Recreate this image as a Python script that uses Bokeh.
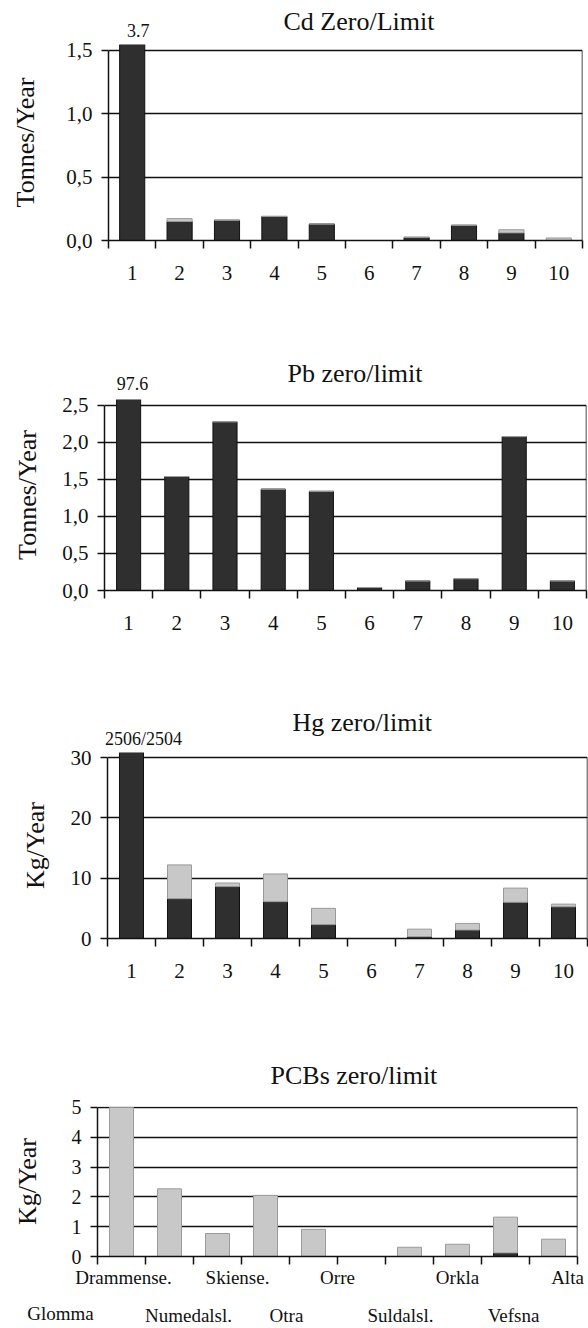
from bokeh.plotting import figure
from bokeh.models import Range1d, FixedTicker, CustomJSTickFormatter, Label, LinearAxis
from bokeh.embed import file_html
from bokeh.resources import INLINE

# ---------------- data ----------------
categories = [1, 2, 3, 4, 5, 6, 7, 8, 9, 10]
tick_labels = ["1", "2", "3", "4", "5", "6", "7", "8", "9", "10"]
rivers = ["Glomma", "Drammense.", "Numedalsl.", "Skiense.", "Otra",
          "Orre", "Suldalsl.", "Orkla", "Vefsna", "Alta"]

# dark = "zero" estimate, light = extra amount up to the "limit" estimate
cd_zero = [3.7, 0.15, 0.16, 0.19, 0.13, 0.0, 0.025, 0.12, 0.06, 0.0]
cd_extra = [0.0, 0.023, 0.0, 0.0, 0.0, 0.0, 0.0, 0.0, 0.025, 0.02]

pb_zero = [97.6, 1.54, 2.28, 1.37, 1.34, 0.04, 0.13, 0.16, 2.08, 0.13]
pb_extra = [0.0, 0.0, 0.0, 0.0, 0.0, 0.0, 0.0, 0.0, 0.0, 0.0]

hg_zero = [2504, 6.6, 8.6, 6.1, 2.3, 0.0, 0.3, 1.4, 6.0, 5.25]
hg_extra = [2, 5.6, 0.6, 4.6, 2.7, 0.0, 1.25, 1.1, 2.35, 0.45]

pcb_zero = [0.0, 0.0, 0.0, 0.0, 0.0, 0.0, 0.0, 0.0, 0.12, 0.0]
pcb_extra = [5.0, 2.27, 0.77, 2.05, 0.91, 0.0, 0.31, 0.41, 1.2, 0.58]

titles = ["Cd  Zero/Limit", "Pb  zero/limit", "Hg  zero/limit", "PCBs  zero/limit"]
off_scale_labels = ["3.7", "97.6", "2506/2504"]

cd_ticks = [0, 0.5, 1.0, 1.5]
pb_ticks = [0, 0.5, 1.0, 1.5, 2.0, 2.5]
hg_ticks = [0, 10, 20, 30]
pcb_ticks = [0, 1, 2, 3, 4, 5]

# ---------------- style ----------------
SERIF = "Liberation Serif"
INK = "#111111"
DARK = "#2f2f2f"
LIGHT = "#c8c8c8"
W = 588
x_lo = categories[0] - 0.5
boundaries = [c - 0.5 for c in categories] + [categories[-1] + 0.5]

NEAREST_JS = """
let best = 0;
for (let k = 1; k < pos.length; k++) {
  if (Math.abs(pos[k] - tick) < Math.abs(pos[best] - tick)) best = k;
}
return names[best];
"""


def free_label(p, side, x, y, dx, dy, text, size, align="center"):
    # text placed from data coordinates, hosted in a side panel so it is not clipped
    p.add_layout(Label(x=x, y=y, x_offset=dx, y_offset=dy, text=text,
                       text_font=SERIF, text_font_size=size, text_align=align,
                       text_baseline="middle", text_color=INK), side)


def make_chart(title, title_dx, title_dy, ylabel, ylabel_standoff,
               yticks, y_end, decimals, zero, extra, height, mb, bar_width,
               show_xlabels=True, ytick_size="21px"):
    L, R, T, B = mb
    p = figure(width=W, height=height, output_backend="svg", toolbar_location=None,
               x_range=Range1d(x_lo, categories[-1] + 0.5),
               y_range=Range1d(0, y_end),
               min_border_left=L, min_border_right=R,
               min_border_top=T, min_border_bottom=B)
    p.outline_line_color = None
    p.background_fill_color = "white"
    p.border_fill_color = "white"
    p.title.visible = False

    # chart title, placed relative to the frame's top-left corner
    free_label(p, "above", x_lo, y_end, title_dx, title_dy, title, "26px", "left")

    src = dict(cat=categories, zero=zero, extra=extra)
    p.vbar_stack(["zero", "extra"], x="cat", width=bar_width, source=src,
                 fill_color=[DARK, LIGHT], line_color=[INK, "#9a9a9a"],
                 line_width=1)

    # right-hand frame border up to the top gridline
    p.segment(x0=[boundaries[-1]], y0=[yticks[0]], x1=[boundaries[-1]], y1=[yticks[-1]],
              line_color=INK, line_width=1.5)

    # x axis
    xa = p.xaxis[0]
    xa.ticker = FixedTicker(ticks=categories if show_xlabels else [], minor_ticks=boundaries)
    xa.major_label_overrides = {c: t for c, t in zip(categories, tick_labels)}
    xa.major_tick_out = 0
    xa.major_tick_in = 0
    xa.minor_tick_out = 8
    xa.minor_tick_in = 0
    xa.minor_tick_line_color = INK
    xa.minor_tick_line_width = 1.5
    xa.axis_line_color = INK
    xa.axis_line_width = 1.5
    xa.major_label_text_font = SERIF
    xa.major_label_text_font_size = "21px"
    xa.major_label_text_color = INK
    xa.major_label_standoff = 17

    # y axis
    ya = p.yaxis[0]
    ya.ticker = FixedTicker(ticks=yticks, minor_ticks=[])
    ya.bounds = (yticks[0], yticks[-1])
    if decimals:
        ya.formatter = CustomJSTickFormatter(code="return tick.toFixed(1).replace('.', ',');")
    else:
        ya.formatter = CustomJSTickFormatter(code="return tick.toFixed(0);")
    ya.major_tick_out = 7
    ya.major_tick_in = 0
    ya.minor_tick_out = 0
    ya.minor_tick_in = 0
    ya.major_tick_line_color = INK
    ya.major_tick_line_width = 1.5
    ya.axis_line_color = INK
    ya.axis_line_width = 1.5
    ya.major_label_text_font = SERIF
    ya.major_label_text_font_size = ytick_size
    ya.major_label_text_color = INK
    ya.major_label_standoff = 9
    ya.axis_label = ylabel
    ya.axis_label_text_font = SERIF
    ya.axis_label_text_font_size = "26px"
    ya.axis_label_text_font_style = "normal"
    ya.axis_label_text_color = INK
    ya.axis_label_standoff = ylabel_standoff

    p.xgrid.grid_line_color = None
    p.ygrid.ticker = FixedTicker(ticks=yticks)
    p.ygrid.grid_line_color = INK
    p.ygrid.grid_line_width = 1.5
    return p


p1 = make_chart(titles[0], 175, 23, "Tonnes/Year", 23, cd_ticks, 1.547, True,
                cd_zero, cd_extra, 330, (108, 6, 44, 90), 0.53)
free_label(p1, "below", categories[0], 1.547, 6, 14.5, off_scale_labels[0], "18px")

p2 = make_chart(titles[1], 183, 26, "Tonnes/Year", 17, pb_ticks, 2.581, True,
                pb_zero, pb_extra, 350, (104, 2, 69, 90), 0.5)
free_label(p2, "below", categories[0], 2.581, 4, 16, off_scale_labels[1], "18px")

p3 = make_chart(titles[2], 185, 30, "Kg/Year", 18, hg_ticks, 30.83, False,
                hg_zero, hg_extra, 340, (107, 1, 72, 82), 0.5)
free_label(p3, "below", categories[0], 30.83, 12, 13.5, off_scale_labels[2], "18px")

p4 = make_chart(titles[3], 173, 31, "Kg/Year", 27, pcb_ticks, 5.03, False,
                pcb_zero, pcb_extra, 308, (97, 11, 86, 70), 0.5,
                show_xlabels=False, ytick_size="20px")

# staggered river names under the PCB chart, on two rows of labels
cat_px = 48.0
name_shift_px = [-61, -46, -29, -28, -27, -24, -9, 0, 8, 14]
name_pos = [c + s / cat_px for c, s in zip(categories, name_shift_px)]
row1_pos = name_pos[1::2]
row1_names = rivers[1::2]
row2_pos = name_pos[2::2]
row2_names = rivers[2::2]

xa4 = p4.xaxis[0]
xa4.ticker = FixedTicker(ticks=row1_pos, minor_ticks=boundaries)
xa4.major_label_overrides = {}
xa4.formatter = CustomJSTickFormatter(args=dict(pos=row1_pos, names=row1_names), code=NEAREST_JS)
xa4.major_label_text_font_size = "19px"
xa4.major_label_standoff = 2

xa4b = LinearAxis(ticker=FixedTicker(ticks=row2_pos, minor_ticks=[]),
                  formatter=CustomJSTickFormatter(args=dict(pos=row2_pos, names=row2_names),
                                                  code=NEAREST_JS))
xa4b.axis_line_color = None
xa4b.major_tick_line_color = None
xa4b.minor_tick_line_color = None
xa4b.major_tick_out = 0
xa4b.major_tick_in = 0
xa4b.major_label_text_font = SERIF
xa4b.major_label_text_font_size = "19px"
xa4b.major_label_text_color = INK
xa4b.major_label_standoff = 14
p4.add_layout(xa4b, "below")

# first name sits left of the frame, beyond the axis range
free_label(p4, "above", name_pos[0], 0, 0, -57, rivers[0], "19px")

open("out.html", "w").write(file_html([p1, p2, p3, p4], INLINE))
